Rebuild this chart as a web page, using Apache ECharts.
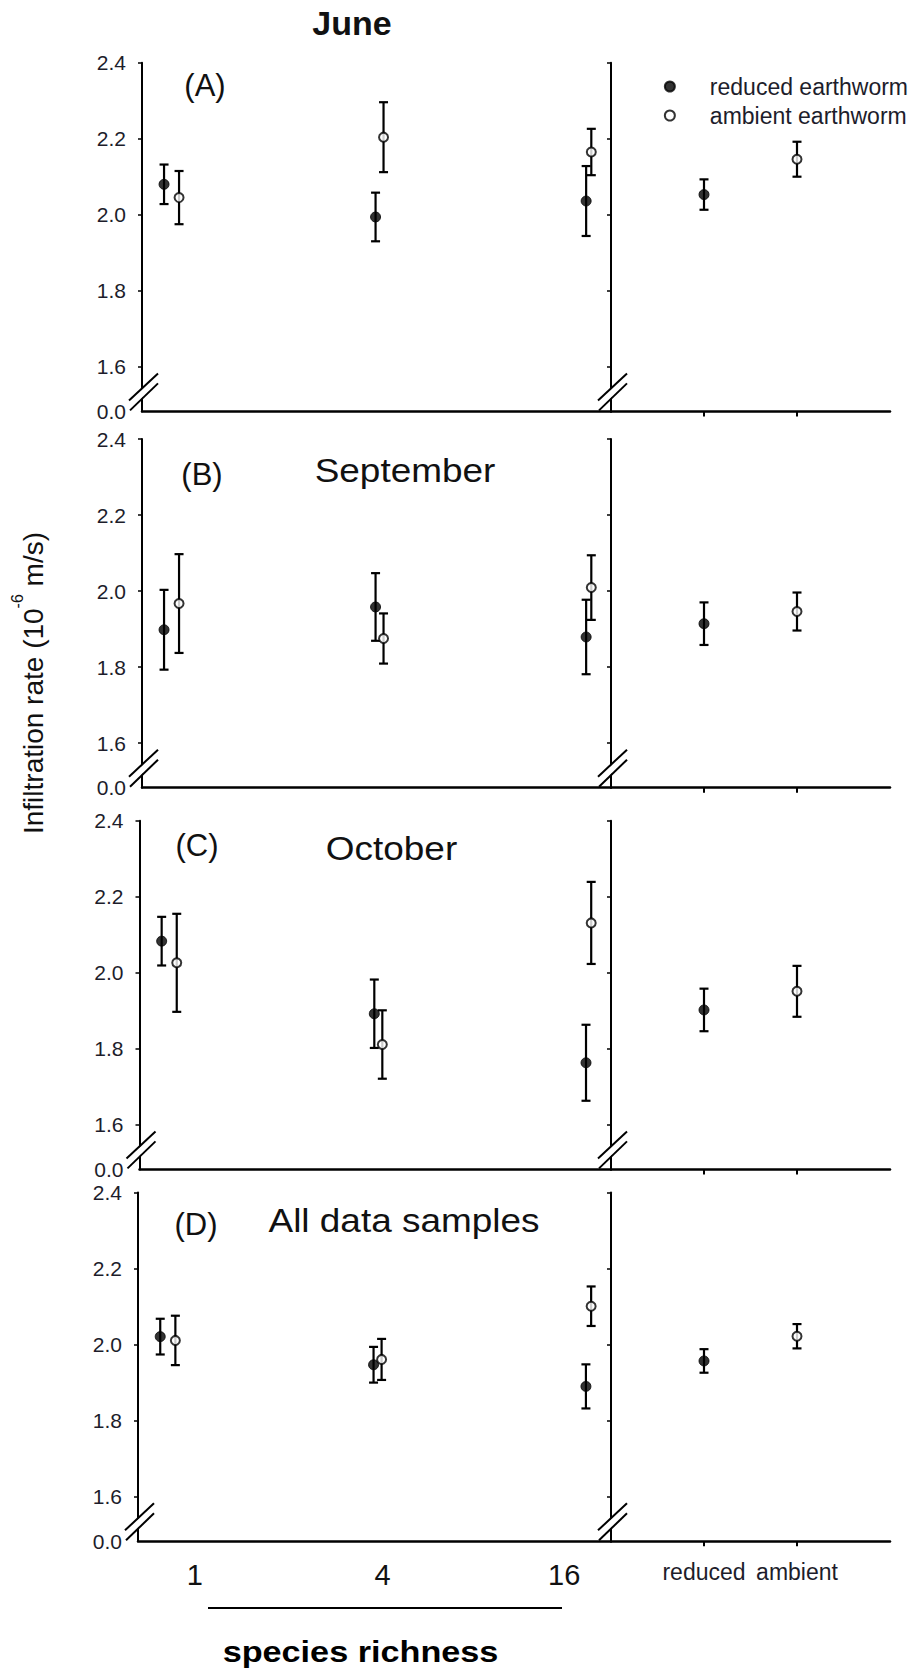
<!DOCTYPE html>
<html>
<head>
<meta charset="utf-8">
<title>Infiltration rate by species richness and earthworm treatment</title>
<script src="https://cdn.jsdelivr.net/npm/echarts@6/dist/echarts.min.js"></script>
<style>
  html, body { margin: 0; padding: 0; background: #fff; }
  #chart { width: 914px; height: 1670px; }
</style>
</head>
<body>
<div id="chart"></div>
<script>
// ---- data ----
const panelLabels = ['(A)', '(B)', '(C)', '(D)']
const panelTitles = ['June', 'September', 'October', 'All data samples']
const richness = ['1', '4', '16']
const richnessTickX = [12, 51.7, 90.1]
const treatments = ['reduced', 'ambient']
const seriesNames = ['reduced earthworm', 'ambient earthworm']

// marker position inside each richness group (left axis runs 0..100)
const reducedX = [4.7, 49.8, 94.7]
const ambientX = [7.9, 51.5, 95.8]

// means and error bar half widths, one row per panel (A..D)
const reducedMean = [
  [2.080, 1.994, 2.036],
  [1.898, 1.958, 1.879],
  [2.083, 1.892, 1.763],
  [2.021, 1.947, 1.890]
]
const reducedErr = [
  [0.052, 0.064, 0.092],
  [0.105, 0.089, 0.098],
  [0.064, 0.090, 0.100],
  [0.047, 0.047, 0.058]
]
const ambientMean = [
  [2.045, 2.204, 2.165],
  [1.967, 1.875, 2.009],
  [2.026, 1.811, 2.131],
  [2.011, 1.961, 2.101]
]
const ambientErr = [
  [0.070, 0.092, 0.061],
  [0.130, 0.066, 0.085],
  [0.129, 0.090, 0.108],
  [0.065, 0.054, 0.052]
]
// pooled over richness (right-hand panels)
const reducedPooled = [2.053, 1.914, 1.902, 1.957]
const reducedPooledErr = [0.040, 0.056, 0.056, 0.031]
const ambientPooled = [2.146, 1.946, 1.951, 2.022]
const ambientPooledErr = [0.046, 0.050, 0.067, 0.032]

const yTicks = [1.6, 1.8, 2.0, 2.2, 2.4]
const yBreakLabel = '0.0'

// ---- layout ----
const FONT = "'Liberation Sans', Arial, sans-serif"
const panelTop = [62.7, 439, 820.7, 1192.6]
const panelLeft = [142, 142, 139.5, 138]
const panelH = 348.7
const splitX = 611
const rightEnd = 890
const Y_MAX = 2.4
const Y_MIN = Y_MAX - panelH / 380 // room for the broken stub down to 0.0

const chart = echarts.init(document.getElementById('chart'), null, { renderer: 'svg' })

const nearest = (arr, v) => arr.reduce((b, a, k) => Math.abs(a - v) < Math.abs(arr[b] - v) ? k : b, 0)

function errorBar(params, api) {
  const x = api.value(0)
  const lo = api.coord([x, api.value(1)])
  const hi = api.coord([x, api.value(2)])
  const style = { stroke: '#000', lineWidth: 2.2 }
  return {
    type: 'group',
    children: [
      { type: 'line', shape: { x1: lo[0], y1: lo[1], x2: hi[0], y2: hi[1] }, style },
      { type: 'line', shape: { x1: hi[0] - 4.5, y1: hi[1], x2: hi[0] + 4.5, y2: hi[1] }, style },
      { type: 'line', shape: { x1: lo[0] - 4.5, y1: lo[1], x2: lo[0] + 4.5, y2: lo[1] }, style }
    ]
  }
}

const markerStyle = [
  { color: '#000', borderColor: '#000', borderWidth: 1 },
  { color: '#fff', borderColor: '#000', borderWidth: 2 }
]
const markerSize = [10, 9]

function breakMark(ax, ay) {
  const line = { stroke: '#000', lineWidth: 2 }
  return [
    { type: 'polygon', z: 100, shape: { points: [[ax - 12, ay - 2], [ax + 16, ay - 29], [ax + 16, ay - 37], [ax - 13, ay - 10]] }, style: { fill: '#fff' } },
    { type: 'line', z: 101, shape: { x1: ax - 12, y1: ay - 1, x2: ax + 16, y2: ay - 28 }, style: line },
    { type: 'line', z: 101, shape: { x1: ax - 13, y1: ay - 11, x2: ax + 16, y2: ay - 38 }, style: line }
  ]
}

const xLine = { show: true, onZero: false, lineStyle: { color: '#000', width: 2.5 } }
const yLine = { show: true, onZero: false, lineStyle: { color: '#000', width: 2 } }
const grid = [], xAxis = [], yAxis = [], series = [], graphic = []

panelTop.forEach((top, i) => {
  const left = panelLeft[i]
  const last = i === panelTop.length - 1
  const gl = 2 * i, gr = 2 * i + 1

  grid.push({ left, top, width: splitX - left, height: panelH })
  grid.push({ left: splitX, top, width: rightEnd - splitX, height: panelH })

  xAxis.push({
    gridIndex: gl, type: 'value', min: 0, max: 100,
    axisLine: xLine, axisTick: { show: false }, splitLine: { show: false },
    axisLabel: {
      show: last, customValues: richnessTickX, margin: 19,
      formatter: v => richness[nearest(richnessTickX, v)],
      fontSize: 29, fontFamily: FONT, color: '#111'
    }
  })
  xAxis.push({
    gridIndex: gr, type: 'value', min: 0, max: 3,
    axisLine: xLine, splitLine: { show: false },
    axisTick: { show: true, customValues: [1, 2], length: 5, lineStyle: { color: '#000', width: 2 } },
    axisLabel: {
      show: last, customValues: [1, 2], margin: 19,
      formatter: v => treatments[Math.round(v) - 1],
      fontSize: 23, fontFamily: FONT, color: '#1d1d2b'
    }
  })
  const yBase = {
    type: 'value', min: Y_MIN, max: Y_MAX,
    axisLine: yLine, splitLine: { show: false },
    axisTick: { show: true, customValues: yTicks, length: 4, lineStyle: { color: '#000', width: 1.5 } }
  }
  yAxis.push(Object.assign({}, yBase, {
    gridIndex: gl,
    axisLabel: {
      customValues: [Y_MIN].concat(yTicks), margin: 16,
      formatter: v => v < 1.55 ? yBreakLabel : v.toFixed(1),
      fontSize: 21, fontFamily: FONT, color: '#1d1d2b'
    }
  }))
  yAxis.push(Object.assign({}, yBase, { gridIndex: gr, axisLabel: { show: false } }))

  const groups = [
    { x: reducedX, mean: reducedMean[i], err: reducedErr[i] },
    { x: ambientX, mean: ambientMean[i], err: ambientErr[i] }
  ]
  groups.forEach((g, t) => {
    series.push({
      type: 'custom', xAxisIndex: gl, yAxisIndex: gl, renderItem: errorBar, z: 2,
      encode: { x: 0, y: [1, 2] },
      data: g.x.map((x, j) => [x, g.mean[j] - g.err[j], g.mean[j] + g.err[j]])
    })
    series.push({
      type: 'scatter', name: seriesNames[t], xAxisIndex: gl, yAxisIndex: gl, z: 3,
      symbol: 'circle', symbolSize: markerSize[t], itemStyle: markerStyle[t],
      data: g.x.map((x, j) => [x, g.mean[j]])
    })
  })

  const pooled = [
    [reducedPooled[i], reducedPooledErr[i]],
    [ambientPooled[i], ambientPooledErr[i]]
  ]
  pooled.forEach(([m, e], t) => {
    series.push({
      type: 'custom', xAxisIndex: gr, yAxisIndex: gr, renderItem: errorBar, z: 2,
      encode: { x: 0, y: [1, 2] },
      data: [[t + 1, m - e, m + e]]
    })
    series.push({
      type: 'scatter', name: seriesNames[t], xAxisIndex: gr, yAxisIndex: gr, z: 3,
      symbol: 'circle', symbolSize: markerSize[t], itemStyle: markerStyle[t],
      data: [[t + 1, m]]
    })
  })

  const bottom = top + panelH
  graphic.push(...breakMark(left, bottom), ...breakMark(splitX, bottom))
})

// panel letters and titles
const letterPos = [[205, 85], [202, 474], [197, 845], [196, 1224]]
letterPos.forEach(([x, y], i) => {
  graphic.push({
    type: 'text', x, y, z: 100,
    style: { text: panelLabels[i], fontSize: 31, fontFamily: FONT, fill: '#111', align: 'center', verticalAlign: 'middle' }
  })
})
graphic.push({
  type: 'text', x: 352, y: 23, z: 100,
  style: { text: panelTitles[0], fontSize: 34, fontWeight: 'bold', fontFamily: FONT, fill: '#111', align: 'center', verticalAlign: 'middle' }
})
const titlePos = [null, [405, 470.6], [391.5, 848.6], [404, 1220]]
titlePos.forEach((p, i) => {
  if (!p) return
  graphic.push({
    type: 'text', x: p[0], y: p[1], scaleX: 1.12, z: 100,
    style: { text: panelTitles[i], fontSize: 33, fontFamily: FONT, fill: '#111', align: 'center', verticalAlign: 'middle' }
  })
})

// y axis title, shared by all panels
graphic.push({
  type: 'text', x: 28, y: 683, rotation: Math.PI / 2, z: 100,
  style: {
    text: '{a|Infiltration rate (10}{s|-6}{a| m/s)}',
    fill: '#111', align: 'center', verticalAlign: 'middle',
    rich: {
      a: { fontSize: 28, fontFamily: FONT, lineHeight: 38, verticalAlign: 'bottom' },
      s: { fontSize: 16, fontFamily: FONT, verticalAlign: 'top' }
    }
  }
})

// species richness bracket
graphic.push({
  type: 'line', z: 100,
  shape: { x1: 208, y1: 1608, x2: 562, y2: 1608 },
  style: { stroke: '#000', lineWidth: 2 }
})
graphic.push({
  type: 'text', x: 360.5, y: 1651.5, scaleX: 1.18, z: 100,
  style: { text: 'species richness', fontSize: 29, fontWeight: 'bold', fontFamily: FONT, fill: '#000', align: 'center', verticalAlign: 'middle' }
})

chart.setOption({
  backgroundColor: '#fff',
  animation: false,
  legend: {
    data: seriesNames,
    orient: 'vertical',
    right: 1, top: 70,
    itemWidth: 70, itemHeight: 10, itemGap: 6,
    textStyle: { fontSize: 23, fontFamily: FONT, color: '#1d1d2b' }
  },
  grid, xAxis, yAxis, series, graphic
})

window.addEventListener('resize', () => chart.resize())
</script>
</body>
</html>
